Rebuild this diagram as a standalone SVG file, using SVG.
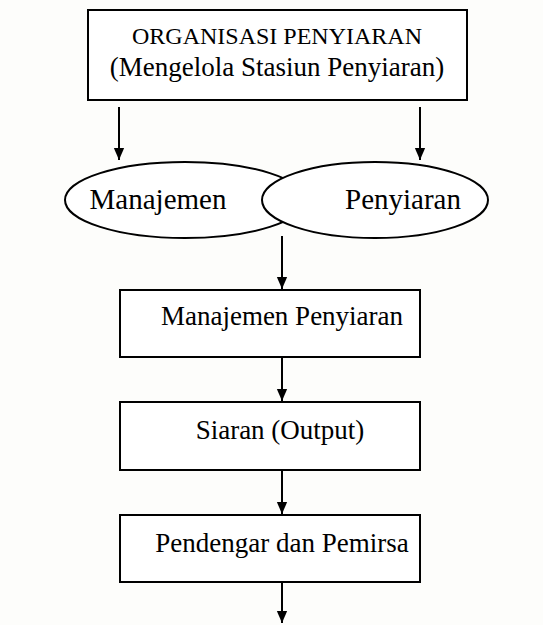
<svg xmlns="http://www.w3.org/2000/svg" width="543" height="625" viewBox="0 0 543 625">
<defs>
<style>
.box{fill:#fff;stroke:#000;stroke-width:2}
.ell{fill:#fff;stroke:#000;stroke-width:2}
.t{font-family:"Liberation Serif","Times New Roman",serif;fill:#000;text-anchor:middle}
.c{stroke:#000;stroke-width:2;fill:none}
</style>
<marker id="ah" markerWidth="12" markerHeight="14" refX="14" refY="6" orient="auto" markerUnits="userSpaceOnUse" viewBox="0 0 14 12">
<path d="M0,0 L14,6 L0,12 z" fill="#000"/>
</marker>
</defs>
<rect width="543" height="625" fill="#fdfdfb"/>
<g id="connectors">
<line class="c" x1="119" y1="107" x2="119" y2="160" marker-end="url(#ah)"/>
<line class="c" x1="420" y1="107" x2="420" y2="160" marker-end="url(#ah)"/>
<line class="c" x1="282" y1="236" x2="282" y2="289" marker-end="url(#ah)"/>
<line class="c" x1="282" y1="357" x2="282" y2="401" marker-end="url(#ah)"/>
<line class="c" x1="282" y1="470" x2="282" y2="514" marker-end="url(#ah)"/>
<line class="c" x1="282" y1="582" x2="282" y2="623" marker-end="url(#ah)"/>
</g>
<g id="organisasi">
<rect class="box" x="88" y="10" width="379" height="90"/>
<text class="t" x="277" y="44" font-size="24">ORGANISASI PENYIARAN</text>
<text class="t" x="277" y="76" font-size="27">(Mengelola Stasiun Penyiaran)</text>
</g>
<g id="manajemen">
<ellipse class="ell" cx="185" cy="200" rx="120" ry="38"/>
<text class="t" x="158" y="209" font-size="29">Manajemen</text>
</g>
<g id="penyiaran">
<ellipse class="ell" cx="375" cy="200" rx="113" ry="38"/>
<text class="t" x="403" y="209" font-size="29">Penyiaran</text>
</g>
<g id="manajemen-penyiaran">
<rect class="box" x="120" y="290" width="300" height="67"/>
<text class="t" x="282" y="325" font-size="27">Manajemen Penyiaran</text>
</g>
<g id="siaran">
<rect class="box" x="120" y="402" width="300" height="68"/>
<text class="t" x="280" y="439" font-size="27">Siaran (Output)</text>
</g>
<g id="pendengar">
<rect class="box" x="120" y="515" width="300" height="67"/>
<text class="t" x="282" y="552" font-size="27">Pendengar dan Pemirsa</text>
</g>
</svg>
